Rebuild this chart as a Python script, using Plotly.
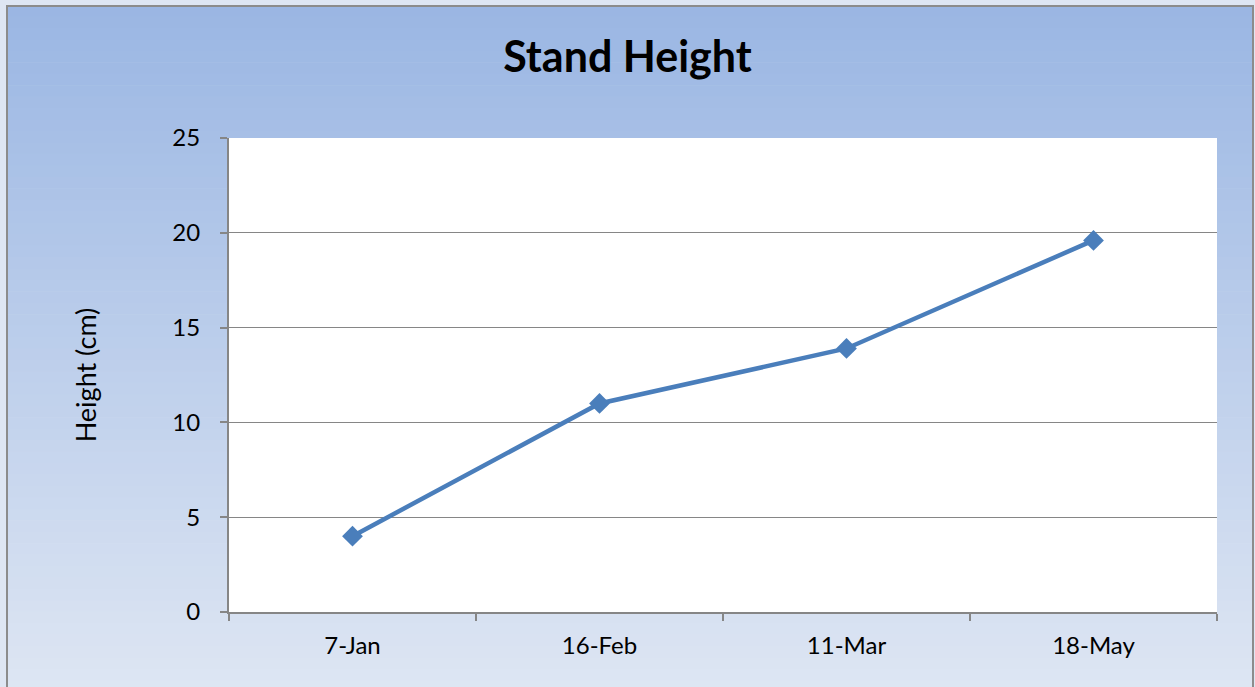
import plotly.graph_objects as go

dates = ["7-Jan", "16-Feb", "11-Mar", "18-May"]
heights = [4.0, 11.0, 13.9, 19.6]
y_ticks = [0, 5, 10, 15, 20, 25]

W, H = 1255, 687
L, R, T, B = 229, 1217, 138, 612
pw, ph = R - L, B - T

def px_x(p):
    return (p - L) / pw

def px_y(p):
    return (B - p) / ph

top_c = (154, 182, 227)
bot_c = (222, 230, 243)

shapes = []
n = 60
for i in range(n):
    y0 = 5 + (H + 5 - 5) * i / n
    y1 = 5 + (H + 5 - 5) * (i + 1) / n + 0.6
    t = (i + 0.5) / n
    c = tuple(round(top_c[k] + (bot_c[k] - top_c[k]) * t) for k in range(3))
    shapes.append(dict(type="rect", xref="paper", yref="paper",
                       x0=px_x(6), x1=px_x(1253), y0=px_y(y1), y1=px_y(y0),
                       fillcolor="rgb(%d,%d,%d)" % c, line=dict(width=0), layer="below"))
# white plot area
shapes.append(dict(type="rect", xref="paper", yref="paper", x0=0, x1=1, y0=0, y1=1,
                   fillcolor="white", line=dict(width=0), layer="below"))
# outer border
shapes.append(dict(type="rect", xref="paper", yref="paper",
                   x0=px_x(7), x1=px_x(1253), y0=px_y(700), y1=px_y(6),
                   fillcolor="rgba(0,0,0,0)", line=dict(color="#8c8c8c", width=2), layer="above"))

fig = go.Figure()
fig.add_trace(go.Scatter(
    x=dates, y=heights, mode="lines+markers",
    line=dict(color="#4a7ebb", width=4.5),
    marker=dict(symbol="diamond", size=16, color="#4a7ebb"),
    showlegend=False, hoverinfo="x+y",
))

fnt = "Lato, 'Open Sans', sans-serif"
fig.update_layout(
    width=W, height=H,
    margin=dict(l=L, r=W - R, t=T, b=H - B, pad=0),
    paper_bgcolor="rgb(222,230,243)",
    plot_bgcolor="white",
    shapes=shapes,
    title=dict(text="<b>Stand Height</b>", x=0.5, xref="container", xanchor="center",
               y=1 - 57 / H, yref="container", yanchor="middle",
               font=dict(family=fnt, size=43, color="black")),
    font=dict(family=fnt, size=24, color="black"),
    xaxis=dict(type="category", range=[-0.5, 3.5], showgrid=False,
               showline=True, linecolor="#868686", linewidth=2,
               ticks="outside", tickson="boundaries", ticklen=7, tickcolor="#868686", tickwidth=1.5,
               tickfont=dict(family=fnt, size=24), ticklabelstandoff=11),
    yaxis=dict(range=[0, 25], tickvals=y_ticks, showgrid=True, gridcolor="#868686", gridwidth=1.4,
               showline=True, linecolor="#868686", linewidth=2, zeroline=False,
               ticks="outside", ticklen=7, tickcolor="#868686", tickwidth=1.5,
               tickfont=dict(family=fnt, size=24), ticklabelstandoff=15,
               title=dict(text="Height (cm)", font=dict(family=fnt, size=27), standoff=68)),
)

fig.write_html("out.html", config={"displayModeBar": False},
               post_script="document.body.style.margin='0';document.body.style.padding='0';document.body.style.overflow='hidden';")
